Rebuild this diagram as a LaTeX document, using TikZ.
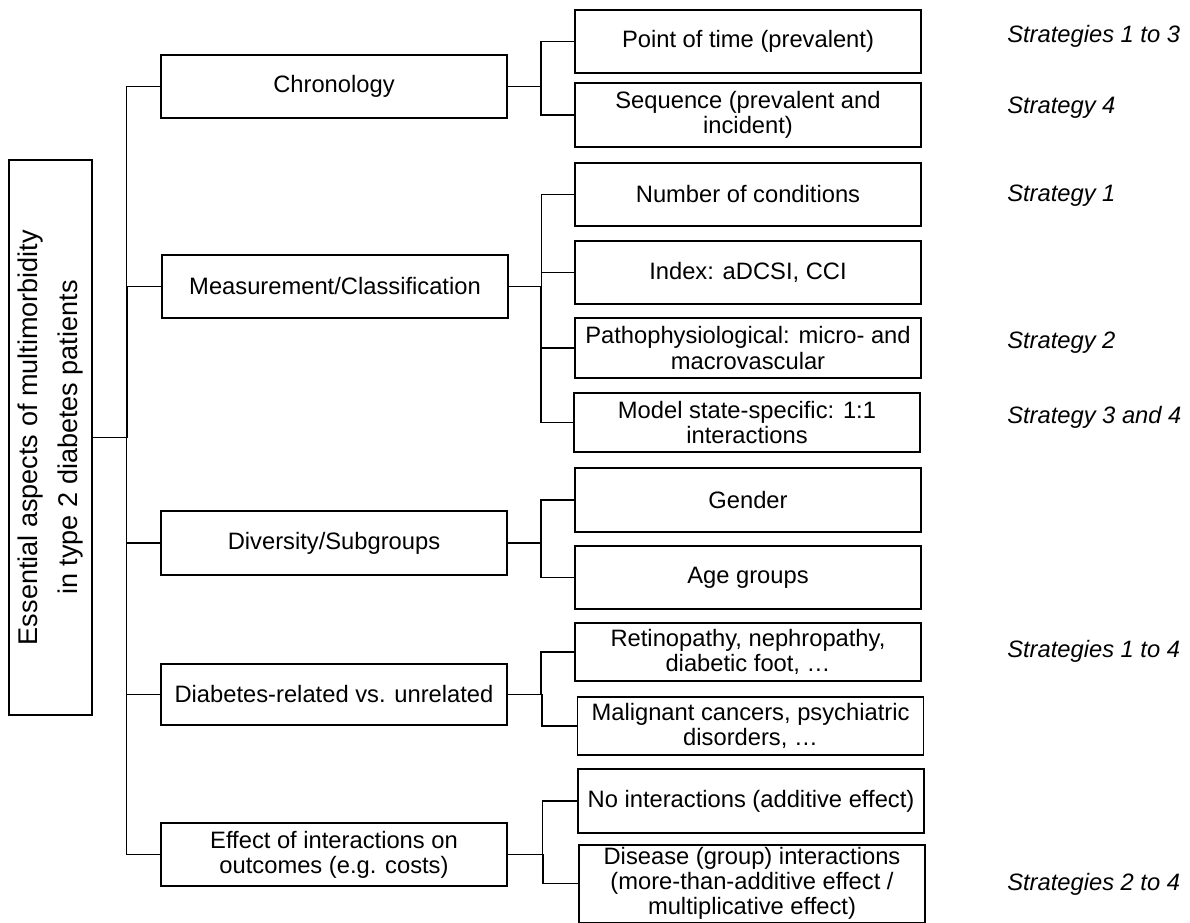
\documentclass[tikz,border=0pt]{standalone}
\usepackage{fontspec}
\setmainfont{Liberation Sans}
\usepackage{tikz}
\usetikzlibrary{calc}

\begin{document}
\begin{tikzpicture}[x=0.75pt, y=-0.75pt,
    box/.style={draw, line width=1.2pt, align=center, inner sep=2pt, font=\fontsize{17.8}{18.8}\selectfont},
    aspect/.style={box, minimum width=259.5pt},
    leaf/.style={box, minimum width=259.5pt},
    strat/.style={anchor=west, inner sep=0pt, font=\fontsize{17.8}{18.8}\selectfont\itshape},
    link/.style={line width=1.2pt}]
    \useasboundingbox (0,0) rectangle (1190,922);

    % Root box (text turned upwards)
    \node[box, rotate=90, minimum width=416pt, minimum height=62pt, font=\fontsize{20.3}{30}\selectfont] (root) at (50.5,437.5)
        {Essential aspects of multimorbidity\\in type 2 diabetes patients};

    % First level: aspects
    \node[aspect, minimum height=47.25pt] (chron) at (334,86.5) {Chronology};
    \node[aspect, minimum height=47.25pt] (meas) at (335,286.5) {Measurement/Classification};
    \node[aspect, minimum height=48pt] (div) at (334,543) {Diversity/Subgroups};
    \node[aspect, minimum height=45.75pt] (rel) at (334,694.5) {Diabetes-related vs. unrelated};
    \node[aspect, minimum height=47.25pt] (eff) at (334,854.5) {Effect of interactions on\\outcomes (e.g. costs)};

    % Second level: options per aspect
    \node[leaf, minimum height=47.25pt] (point) at (748,41.5) {Point of time (prevalent)};
    \node[leaf, minimum height=48pt] (seq) at (748,115) {Sequence (prevalent and\\incident)};
    \node[leaf, minimum height=47.25pt] (num) at (748,194.5) {Number of conditions};
    \node[leaf, minimum height=47.25pt] (idx) at (748,272.5) {Index: aDCSI, CCI};
    \node[leaf, minimum height=45pt] (patho) at (748,348) {Pathophysiological: micro- and\\macrovascular};
    \node[leaf, minimum height=44.25pt] (model) at (747,422.5) {Model state-specific: 1:1\\interactions};
    \node[leaf, minimum height=48pt] (gender) at (748,500) {Gender};
    \node[leaf, minimum height=47.25pt] (age) at (748,577.5) {Age groups};
    \node[leaf, minimum height=43.5pt] (retino) at (748,652) {Retinopathy, nephropathy,\\diabetic foot, …};
    \node[leaf, minimum height=43.5pt] (malig) at (750.5,726) {Malignant cancers, psychiatric\\disorders, …};
    \node[leaf, minimum height=48pt] (noint) at (751,801) {No interactions (additive effect)};
    \node[leaf, minimum height=56.25pt] (dis) at (752,883.5) {Disease (group) interactions\\(more-than-additive effect /\\multiplicative effect)};

    % Strategy labels (right column)
    \node[strat] (s13) at (1007,36) {Strategies 1 to 3};
    \node[strat] (s4) at (1007,108) {Strategy 4};
    \node[strat] (s1) at (1007,196) {Strategy 1};
    \node[strat] (s2) at (1007,343) {Strategy 2};
    \node[strat] (s34) at (1007,417) {Strategy 3 and 4};
    \node[strat] (s14) at (1007,651) {Strategies 1 to 4};
    \node[strat] (s24) at (1007,884) {Strategies 2 to 4};

    % Trunk: root to aspects
    \foreach \n in {chron,meas,div,rel,eff}
        \draw[link] (root.south) -| ($(root.south)!.5!(\n.west)$) |- (\n.west);

    % Brackets: aspects to options
    \foreach \p/\c in {chron/point, chron/seq, meas/num, meas/idx, meas/patho, meas/model,
                       div/gender, div/age, rel/retino, rel/malig, eff/noint, eff/dis}
        \draw[link] (\p.east) -| ($(\p.east)!.5!(\c.west)$) |- (\c.west);

\end{tikzpicture}
\end{document}
